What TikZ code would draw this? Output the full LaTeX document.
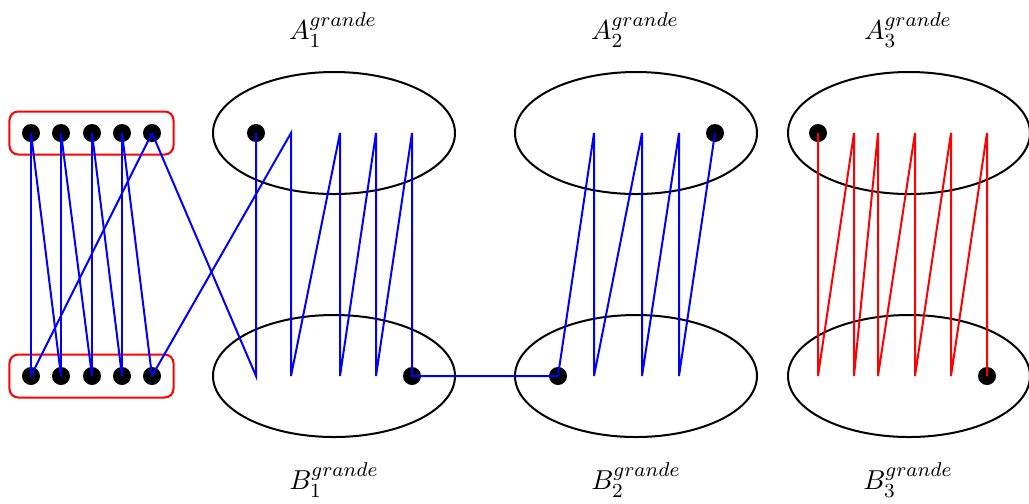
\documentclass[tikz,border=0pt]{standalone}
\usepackage{tikz}
\usetikzlibrary{positioning, shapes.geometric, fit}

\begin{document}
\begin{tikzpicture}[
    x=0.4pt, y=-0.4pt,
    dot/.style={circle, fill=black, inner sep=0pt, minimum size=7.2pt},
    setbox/.style={ellipse, draw=black, thick, inner sep=0pt,
                   minimum width=96.8pt, minimum height=48.8pt},
    grp/.style={rectangle, draw=red, thick, rounded corners=3.5pt, inner sep=4.8pt},
    slabel/.style={font=\fontsize{11}{13}\selectfont},
    bline/.style={blue, thick},
    rline/.style={red, thick},
]
\useasboundingbox (0,0) rectangle (1029,503);

% === the six sets ===
\node[setbox] (A1) at (334,133) {};
\node[setbox] (B1) at (334,376) {};
\node[setbox] (A2) at (636,133) {};
\node[setbox] (B2) at (636,376) {};
\node[setbox] (A3) at (909,133) {};
\node[setbox] (B3) at (909,376) {};

\node[slabel] (lA1) at (333,30) {$A_1^{grande}$};
\node[slabel] (lA2) at (635,30) {$A_2^{grande}$};
\node[slabel] (lA3) at (908,30) {$A_3^{grande}$};
\node[slabel] (lB1) at (334,480) {$B_1^{grande}$};
\node[slabel] (lB2) at (636,480) {$B_2^{grande}$};
\node[slabel] (lB3) at (908,480) {$B_3^{grande}$};

% === left gadget ===
\foreach \i/\x in {1/31,2/61,3/92,4/122,5/152} {
    \node[dot] (t\i) at (\x,133) {};
    \node[dot] (b\i) at (\x,376) {};
}
\node[grp, fit=(t1)(t5)] (top) {};
\node[grp, fit=(b1)(b5)] (bot) {};

% === end points inside the sets ===
\node[dot] (da1) at (256,133) {};
\node[dot] (db1) at (412,376) {};
\node[dot] (da2) at (715,133) {};
\node[dot] (db2) at (558,376) {};
\node[dot] (da3) at (818,133) {};
\node[dot] (db3) at (987,376) {};

\foreach \n/\x in {2/291,3/340,4/376,5/412} \coordinate (u\n) at (\x,133);
\foreach \n/\x in {1/256,2/291,3/340,4/376} \coordinate (v\n) at (\x,376);
\foreach \n/\x in {1/594,2/642,3/679} {
    \coordinate (p\n) at (\x,133);
    \coordinate (q\n) at (\x,376);
}
\foreach \n/\x in {1/854,2/878,3/915,4/951,5/987} \coordinate (r\n) at (\x,133);
\foreach \n/\x in {1/818,2/854,3/878,4/915,5/951} \coordinate (s\n) at (\x,376);

% === blue path ===
\foreach \i/\j in {1/2,2/3,3/4,4/5} {
    \draw[bline] (t\i.center) -- (b\i.center);
    \draw[bline] (t\i.center) -- (b\j.center);
}
\draw[bline] (t5.center) -- (b1.center);
\draw[bline] (t5.center) -- (v1) -- (da1.center);
\draw[bline] (b5.center) -- (u2) -- (v2) -- (u3) -- (v3) -- (u4) -- (v4)
    -- (u5) -- (db1.center) -- (db2.center);
\draw[bline] (db2.center) -- (p1) -- (q1) -- (p2) -- (q2) -- (p3) -- (q3)
    -- (da2.center);

% === red path ===
\draw[rline] (da3.center) -- (s1) -- (r1) -- (s2) -- (r2) -- (s3) -- (r3)
    -- (s4) -- (r4) -- (s5) -- (r5) -- (db3.center);

\end{tikzpicture}
\end{document}
